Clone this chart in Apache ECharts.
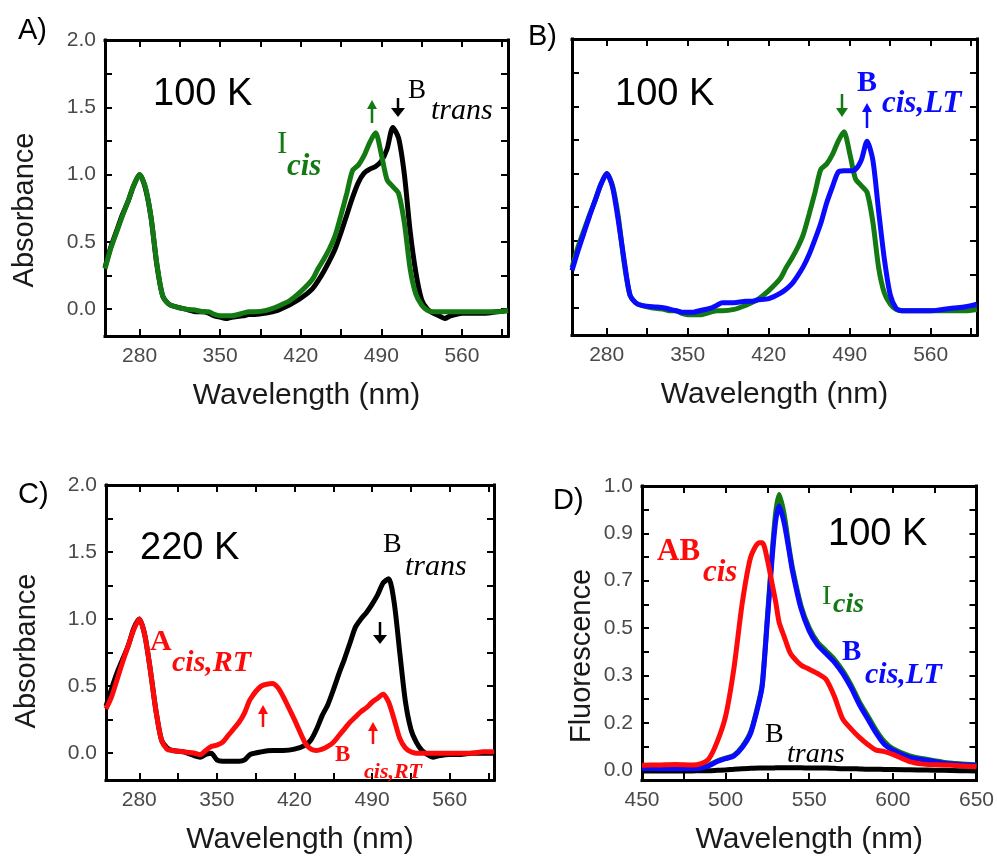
<!DOCTYPE html>
<html>
<head>
<meta charset="utf-8">
<script src="https://cdn.jsdelivr.net/npm/echarts@6/dist/echarts.min.js"></script>
<style>html,body{margin:0;padding:0;background:#fff}#c{width:997px;height:856px}</style>
</head>
<body>
<div id="c"></div>
<script>
// ---------- Absorbance panels (A, B, C) ----------
const wlAbs = [250,255,260,265,270,275,280,285,290,295,300,305,310,320,330,335,340,345,350,355,360,370,375,380,390,400,405,410,420,430,435,440,445,450,455,460,465,470,475,480,485,490,495,500,505,510,515,520,525,530,535,540,545,550,560,570,580,590,600];
const iCisAbs = [0.30,0.45,0.57,0.69,0.80,0.92,1.00,0.91,0.68,0.34,0.10,0.04,0.02,0.00,-0.01,-0.02,-0.02,-0.04,-0.05,-0.05,-0.05,-0.03,-0.02,-0.02,-0.01,0.02,0.04,0.06,0.13,0.22,0.30,0.37,0.45,0.55,0.70,0.86,1.03,1.07,1.14,1.24,1.31,1.15,0.96,0.91,0.86,0.64,0.30,0.11,0.03,-0.01,-0.02,-0.02,-0.02,-0.02,-0.02,-0.02,-0.02,-0.02,-0.01];
const bTransAbsA = [0.31,0.46,0.58,0.70,0.80,0.92,1.00,0.90,0.68,0.33,0.10,0.04,0.02,0.00,-0.02,-0.02,-0.03,-0.05,-0.06,-0.07,-0.06,-0.05,-0.04,-0.04,-0.03,-0.01,0.01,0.03,0.08,0.15,0.21,0.28,0.36,0.45,0.57,0.70,0.83,0.94,1.01,1.04,1.06,1.10,1.19,1.35,1.27,1.00,0.58,0.27,0.07,0.00,-0.03,-0.05,-0.07,-0.05,-0.03,-0.03,-0.03,-0.02,-0.01];
const bCisLTAbs = [0.28,0.42,0.55,0.68,0.80,0.92,1.00,0.90,0.65,0.36,0.10,0.04,0.02,0.01,0.00,-0.01,-0.02,-0.03,-0.03,-0.03,-0.02,0.00,0.02,0.04,0.04,0.05,0.05,0.06,0.07,0.11,0.14,0.18,0.24,0.31,0.40,0.51,0.63,0.78,0.90,1.01,1.02,1.02,1.03,1.10,1.24,1.10,0.72,0.36,0.10,0.00,-0.02,-0.02,-0.02,-0.02,-0.02,-0.01,0.00,0.01,0.03];
const cisRTAbs = [0.33,0.42,0.55,0.68,0.80,0.92,1.00,0.88,0.62,0.32,0.10,0.03,0.02,0.01,0.00,-0.01,0.02,0.05,0.06,0.08,0.13,0.23,0.30,0.40,0.50,0.52,0.49,0.42,0.25,0.07,0.03,0.02,0.03,0.05,0.08,0.13,0.18,0.23,0.27,0.31,0.34,0.38,0.41,0.44,0.38,0.25,0.11,0.04,0.01,0.00,0.00,0.00,0.00,0.00,0.00,0.00,0.00,0.01,0.01];
const bTransAbsC = [0.35,0.48,0.60,0.70,0.80,0.93,1.00,0.88,0.62,0.32,0.10,0.04,0.02,0.01,-0.02,-0.03,-0.01,0.00,-0.05,-0.06,-0.06,-0.06,-0.05,-0.01,0.01,0.02,0.02,0.02,0.03,0.06,0.10,0.18,0.28,0.36,0.47,0.59,0.70,0.82,0.94,1.00,1.05,1.11,1.18,1.27,1.30,1.12,0.75,0.39,0.18,0.08,0.02,-0.01,-0.03,-0.02,-0.01,-0.01,0.00,0.00,0.00];
const absXLabels = [280,350,420,490,560];
const absXTicks = [280,315,350,385,420,455,490,525,560,595];
const absYLabels = [0,0.5,1,1.5,2];
const absYTicks = [0,0.25,0.5,0.75,1,1.25,1.5,1.75,2];

// ---------- Fluorescence panel (D) ----------
const wlFl = [450,460,470,480,485,490,495,500,505,510,515,520,522,525,528,530,532,535,538,540,545,550,555,560,565,570,575,580,585,590,595,600,610,620,630,640,650];
const abCisFl = [0.017,0.018,0.020,0.018,0.022,0.04,0.10,0.19,0.36,0.59,0.75,0.80,0.80,0.74,0.65,0.59,0.52,0.47,0.42,0.40,0.37,0.355,0.34,0.32,0.26,0.18,0.145,0.115,0.09,0.07,0.065,0.055,0.03,0.02,0.018,0.015,0.012];
const iCisFl = [0.008,0.007,0.007,0.007,0.008,0.017,0.032,0.042,0.052,0.083,0.135,0.245,0.31,0.54,0.78,0.91,0.97,0.90,0.78,0.71,0.58,0.50,0.45,0.42,0.39,0.35,0.30,0.24,0.19,0.14,0.10,0.075,0.05,0.038,0.028,0.022,0.018];
const bCisLTFl = [0.006,0.005,0.005,0.005,0.006,0.015,0.03,0.04,0.05,0.08,0.13,0.24,0.30,0.53,0.76,0.88,0.93,0.87,0.77,0.70,0.57,0.49,0.44,0.41,0.38,0.34,0.29,0.23,0.18,0.13,0.09,0.07,0.045,0.035,0.025,0.02,0.017];
const bTransFl = [-0.003,-0.003,-0.003,-0.003,-0.002,-0.002,-0.001,0.000,0.003,0.005,0.006,0.007,0.007,0.007,0.007,0.008,0.008,0.008,0.008,0.008,0.008,0.007,0.007,0.007,0.006,0.005,0.005,0.004,0.003,0.003,0.002,0.002,0.001,0.000,-0.001,-0.002,-0.003];
const flXLabels = [450,500,550,600,650];
const flXTicks = [450,475,500,525,550,575,600,625,650];
const flYTickVals = [0,0.16667,0.33333,0.5,0.66667,0.83333,1.0];
const flYTickText = ['0.0','0.2','0.3','0.5','0.7','0.9','1.0'];
const flYMinor = [0,0.08333,0.16667,0.25,0.33333,0.41667,0.5,0.58333,0.66667,0.75,0.83333,0.91667,1.0];

const GREEN = '#137a13', RED = '#ff0a0a', BLUE = '#0a0aff', BLACK = '#000000';
const SANS = 'Liberation Sans, Arial, sans-serif';
const SERIF = 'Liberation Serif, Times New Roman, serif';
const LABEL_COL = '#4a4a4a';

const zip = (xs, ys) => xs.map((x, i) => [x, ys[i]]);

const grids = [
  {left:105, top:40, width:403, height:296},
  {left:572, top:39, width:405, height:296},
  {left:106, top:485, width:388, height:297},
  {left:642, top:486, width:336, height:297}
].map(g => Object.assign({show:false}, g));

const tickStyle = {show:true, inside:true, length:7, lineStyle:{color:'#000', width:2}};
const axLine = {show:true, onZero:false, lineStyle:{color:'#000', width:3, cap:'square'}};
const xAxes = [], yAxes = [];
function addAxes(gi, xmin, xmax, xl, xt, ymin, ymax, yl, yt, showY, yFmt) {
  xAxes.push({type:'value', gridIndex:gi, min:xmin, max:xmax, position:'bottom',
    axisLine:axLine, splitLine:{show:false},
    axisTick:Object.assign({customValues:xt}, tickStyle),
    axisLabel:{customValues:xl, margin:10, color:LABEL_COL, fontFamily:SANS, fontSize:21},
    name:'Wavelength (nm)', nameLocation:'middle', nameGap:45,
    nameTextStyle:{fontFamily:SANS, fontSize:30, color:'#1a1a1a', verticalAlign:'top'}});
  xAxes.push({type:'value', gridIndex:gi, min:xmin, max:xmax, position:'top',
    axisLine:axLine, splitLine:{show:false}, axisLabel:{show:false},
    axisTick:Object.assign({customValues:xt}, tickStyle)});
  yAxes.push({type:'value', gridIndex:gi, min:ymin, max:ymax, position:'left',
    axisLine:axLine, splitLine:{show:false},
    axisTick:Object.assign({customValues:yt}, tickStyle),
    axisLabel:{show:showY, customValues:yl, margin:9, color:LABEL_COL, fontFamily:SANS, fontSize:21,
      formatter: yFmt || (v => v.toFixed(1))}});
  yAxes.push({type:'value', gridIndex:gi, min:ymin, max:ymax, position:'right',
    axisLine:axLine, splitLine:{show:false}, axisLabel:{show:false},
    axisTick:Object.assign({customValues:yt}, tickStyle)});
}
addAxes(0, 250, 600, absXLabels, absXTicks, -0.2, 2.0, absYLabels, absYTicks, true);
addAxes(1, 250, 600, absXLabels, absXTicks, -0.2, 2.0, absYLabels, absYTicks, false);
addAxes(2, 250, 600, absXLabels, absXTicks, -0.2, 2.0, absYLabels, absYTicks, true);
const flFmt = v => { let best = 0; flYTickVals.forEach((t, i) => { if (Math.abs(t - v) < Math.abs(flYTickVals[best] - v)) best = i; }); return flYTickText[best]; };
addAxes(3, 450, 650, flXLabels, flXTicks, -0.035, 1.0, flYTickVals, flYMinor, true, flFmt);

function line(panel, wl, vals, color, name) {
  return {type:'line', name, xAxisIndex:panel*2, yAxisIndex:panel*2, data:zip(wl, vals),
    showSymbol:false, smooth:0.25, lineStyle:{color, width:5}, itemStyle:{color}, animation:false, z:2};
}
const series = [
  line(0, wlAbs, bTransAbsA, BLACK, 'B trans'),
  line(0, wlAbs, iCisAbs, GREEN, 'I cis'),
  line(1, wlAbs, iCisAbs, GREEN, 'I cis'),
  line(1, wlAbs, bCisLTAbs, BLUE, 'B cis,LT'),
  line(2, wlAbs, bTransAbsC, BLACK, 'B trans'),
  line(2, wlAbs, cisRTAbs, RED, 'cis,RT'),
  line(3, wlFl, bTransFl, BLACK, 'B trans'),
  line(3, wlFl, iCisFl, GREEN, 'I cis'),
  line(3, wlFl, bCisLTFl, BLUE, 'B cis,LT'),
  line(3, wlFl, abCisFl, RED, 'AB cis')
];

// ---------- annotations ----------
function txt(x, y, text, font, fill, rot) {
  const el = {type:'text', x, y, z:10, style:{text, font, fill, align:'left', verticalAlign:'middle', textAlign:'left', textVerticalAlign:'middle'}};
  if (rot) { el.rotation = rot; el.style.align = 'center'; el.style.textAlign = 'center'; }
  return el;
}
function arrow(x, yTop, yBot, up, color, hw) {
  hw = hw || 5;
  const head = up ? [[x-hw, yTop+9], [x+hw, yTop+9], [x, yTop]] : [[x-hw, yBot-9], [x+hw, yBot-9], [x, yBot]];
  return [
    {type:'line', z:10, shape:{x1:x, y1:up ? yTop+6 : yTop, x2:x, y2:up ? yBot : yBot-6}, style:{stroke:color, lineWidth:2.5}},
    {type:'polygon', z:10, shape:{points:head}, style:{fill:color}}
  ];
}
const f = (w, s, fam) => `${w} ${s}px ${fam}`;
const graphic = [
  // A
  txt(18, 31, 'A)', f('normal', 29, SANS), '#000'),
  txt(153, 95, '100 K', f('normal', 38, SANS), '#000'),
  txt(277, 145, 'I', f('normal', 31, SERIF), GREEN),
  txt(287, 167, 'cis', f('italic bold', 31, SERIF), GREEN),
  txt(408, 91, 'B', f('normal', 27, SERIF), '#000'),
  txt(431, 111, 'trans', f('italic normal', 30, SERIF), '#000'),
  ...arrow(372, 100, 123, true, GREEN, 5),
  ...arrow(398, 98, 117, false, '#000', 7),
  txt(25, 210, 'Absorbance', f('normal', 29, SANS), '#1a1a1a', Math.PI/2),
  // B
  txt(528, 37, 'B)', f('normal', 29, SANS), '#000'),
  txt(615, 95, '100 K', f('normal', 38, SANS), '#000'),
  txt(857, 83, 'B', f('bold', 30, SERIF), BLUE),
  txt(882, 104, 'cis,LT', f('italic bold', 31, SERIF), BLUE),
  ...arrow(842, 94, 117, false, GREEN, 6),
  ...arrow(867, 103, 128, true, BLUE, 5),
  // C
  txt(18, 495, 'C)', f('normal', 29, SANS), '#000'),
  txt(140, 549, '220 K', f('normal', 38, SANS), '#000'),
  txt(383, 545, 'B', f('normal', 28, SERIF), '#000'),
  txt(405, 567, 'trans', f('italic normal', 30, SERIF), '#000'),
  txt(150, 642, 'A', f('bold', 30, SERIF), RED),
  txt(172, 663, 'cis,RT', f('italic bold', 30, SERIF), RED),
  txt(335, 755, 'B', f('bold', 23, SERIF), RED),
  txt(364, 772, 'cis,RT', f('italic bold', 22, SERIF), RED),
  ...arrow(380, 622, 644, false, '#000', 7),
  ...arrow(263, 705, 727, true, RED, 5),
  ...arrow(373, 722, 744, true, RED, 5),
  txt(27, 651, 'Absorbance', f('normal', 29, SANS), '#1a1a1a', Math.PI/2),
  // D
  txt(553, 501, 'D)', f('normal', 29, SANS), '#000'),
  txt(828, 535, '100 K', f('normal', 38, SANS), '#000'),
  txt(657, 552, 'AB', f('bold', 31, SERIF), RED),
  txt(703, 573, 'cis', f('italic bold', 31, SERIF), RED),
  txt(822, 597, 'I', f('normal', 28, SERIF), GREEN),
  txt(833, 605, 'cis', f('italic bold', 28, SERIF), GREEN),
  txt(842, 653, 'B', f('bold', 29, SERIF), BLUE),
  txt(865, 675, 'cis,LT', f('italic bold', 30, SERIF), BLUE),
  txt(765, 735, 'B', f('normal', 28, SERIF), '#000'),
  txt(787, 755, 'trans', f('italic normal', 28, SERIF), '#000'),
  txt(582, 656, 'Fluorescence', f('normal', 29, SANS), '#1a1a1a', Math.PI/2)
];

const chart = echarts.init(document.getElementById('c'), null, {renderer:'canvas', width:997, height:856});
chart.setOption({
  backgroundColor:'#ffffff',
  animation:false,
  grid:grids,
  xAxis:xAxes,
  yAxis:yAxes,
  series,
  graphic
});
</script>
</body>
</html>
